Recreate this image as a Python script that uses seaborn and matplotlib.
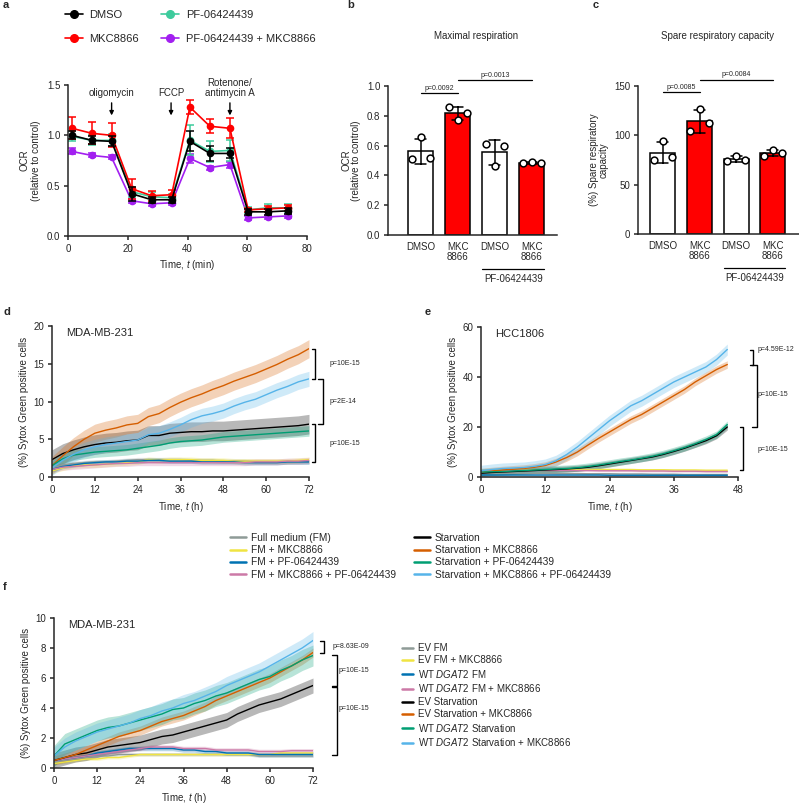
import numpy as np
import pandas as pd
import matplotlib
matplotlib.use("Agg")
import matplotlib.pyplot as plt
import seaborn as sns
from matplotlib.lines import Line2D
from matplotlib.transforms import blended_transform_factory

sns.set_style("ticks")
plt.rcParams["font.family"] = ["Liberation Sans", "DejaVu Sans"]
plt.rcParams["mathtext.fontset"] = "custom"
plt.rcParams["mathtext.rm"] = "Liberation Sans"
plt.rcParams["mathtext.it"] = "Liberation Sans:italic"
plt.rcParams["axes.linewidth"] = 1.1
plt.rcParams["xtick.major.width"] = 1.1
plt.rcParams["ytick.major.width"] = 1.1
plt.rcParams["xtick.major.size"] = 3
plt.rcParams["ytick.major.size"] = 3
plt.rcParams["xtick.labelsize"] = 7
plt.rcParams["ytick.labelsize"] = 7
plt.rcParams["axes.labelsize"] = 7
plt.rcParams["xtick.major.pad"] = 2.5
plt.rcParams["ytick.major.pad"] = 2.5

# ---------------- panel a: OCR time course ----------------
ocr_time = [1.3, 8.0, 14.6, 21.3, 28.0, 34.7, 40.8, 47.5, 54.2, 60.3, 67.0, 73.7]
ocr_dmso = [1.00, 0.95, 0.94, 0.42, 0.36, 0.36, 0.94, 0.82, 0.82, 0.24, 0.24, 0.25]
ocr_dmso_sd = [0.04, 0.04, 0.05, 0.07, 0.03, 0.03, 0.10, 0.07, 0.05, 0.03, 0.03, 0.03]
ocr_mkc = [1.07, 1.02, 1.00, 0.47, 0.40, 0.41, 1.28, 1.09, 1.07, 0.26, 0.27, 0.28]
ocr_mkc_sd = [0.11, 0.11, 0.12, 0.10, 0.05, 0.05, 0.07, 0.07, 0.10, 0.02, 0.03, 0.03]
ocr_pf = [0.99, 0.95, 0.95, 0.44, 0.39, 0.38, 0.95, 0.84, 0.85, 0.26, 0.28, 0.28]
ocr_pf_sd = [0.05, 0.05, 0.06, 0.05, 0.05, 0.04, 0.15, 0.10, 0.10, 0.03, 0.04, 0.04]
ocr_combo = [0.84, 0.80, 0.78, 0.35, 0.32, 0.33, 0.77, 0.68, 0.71, 0.18, 0.19, 0.20]
ocr_combo_sd = [0.03, 0.02, 0.02, 0.02, 0.02, 0.02, 0.04, 0.02, 0.03, 0.02, 0.02, 0.02]
ocr_labels = ["DMSO", "MKC8866", "PF-06424439", "PF-06424439 + MKC8866"]
ocr_colors = ["#000000", "#FF0000", "#3DCB9C", "#A21FF0"]
injections = [(14.6, "oligomycin"), (34.5, "FCCP"), (54.2, "Rotenone/\nantimycin A")]

# ---------------- panels b, c: bar charts ----------------
bar_groups = ["DMSO", "MKC8866", "PF DMSO", "PF MKC8866"]
bar_ticklabels = ["DMSO", "MKC\n8866", "DMSO", "MKC\n8866"]
bar_colors = ["white", "#FF0000", "white", "#FF0000"]
# replicate values ordered left, centre, right within each bar
maxresp = [[0.51, 0.66, 0.52], [0.86, 0.77, 0.82], [0.61, 0.46, 0.60], [0.48, 0.49, 0.48]]
spare = [[74.5, 94.5, 78.0], [104.0, 126.5, 112.0], [74.0, 79.5, 75.0], [79.0, 85.0, 82.5]]
maxresp_sig = [(0, 1, 0.955, "p=0.0092"), (1, 3, 1.04, "p=0.0013")]
spare_sig = [(0, 1, 143.5, "p=0.0085"), (1, 3, 156.5, "p=0.0084")]

# ---------------- panels d, e: Sytox green time courses ----------------
cond_labels = ["Full medium (FM)", "FM + MKC8866", "FM + PF-06424439",
               "FM + MKC8866 + PF-06424439", "Starvation", "Starvation + MKC8866",
               "Starvation + PF-06424439", "Starvation + MKC8866 + PF-06424439"]
cond_colors = ["#8E9B97", "#F0E442", "#0072B2", "#CC79A7",
               "#000000", "#D55E00", "#009E73", "#56B4E9"]

d_time = [0, 3, 6, 9, 12, 15, 18, 21, 24, 27, 30, 33, 36, 39, 42, 45, 48, 51, 54, 57, 60, 63, 66, 69, 72]
d_vals = [
    [1.2, 1.6, 1.8, 1.9, 2.0, 2.0, 2.1, 2.2, 2.3, 2.3, 2.3, 2.3, 2.3, 2.2, 2.2, 2.2, 2.1, 2.1, 2.1, 2.0, 2.0, 2.0, 2.0, 2.0, 2.0],
    [0.8, 1.2, 1.5, 1.6, 1.6, 1.7, 1.8, 1.9, 2.0, 2.3, 2.2, 2.3, 2.3, 2.3, 2.2, 2.2, 2.2, 2.1, 2.1, 2.1, 2.1, 2.1, 2.1, 2.2, 2.3],
    [1.0, 1.4, 1.6, 1.8, 1.9, 2.0, 2.0, 2.1, 2.1, 2.2, 2.2, 2.1, 2.1, 2.1, 2.0, 2.0, 2.0, 2.0, 1.9, 1.9, 1.9, 1.9, 2.0, 2.0, 2.0],
    [1.0, 1.3, 1.4, 1.5, 1.6, 1.7, 1.8, 1.8, 1.9, 1.9, 1.9, 1.9, 1.9, 1.9, 1.9, 1.9, 1.9, 1.9, 1.9, 2.0, 2.0, 2.0, 2.1, 2.1, 2.2],
    [2.3, 3.1, 3.6, 4.0, 4.3, 4.5, 4.6, 4.8, 4.9, 5.5, 5.5, 5.8, 5.9, 6.0, 6.0, 6.1, 6.1, 6.2, 6.3, 6.4, 6.5, 6.6, 6.7, 6.8, 7.0],
    [1.5, 2.8, 4.0, 5.0, 5.8, 6.2, 6.5, 6.9, 7.1, 8.0, 8.4, 9.2, 9.9, 10.5, 11.0, 11.6, 12.1, 12.7, 13.2, 13.7, 14.3, 14.9, 15.6, 16.2, 17.0],
    [1.5, 2.4, 2.9, 3.1, 3.3, 3.4, 3.5, 3.6, 3.8, 4.0, 4.2, 4.5, 4.7, 4.8, 4.9, 5.1, 5.3, 5.4, 5.5, 5.6, 5.7, 5.8, 5.9, 6.0, 6.1],
    [1.2, 2.2, 3.0, 3.6, 4.0, 4.3, 4.5, 4.7, 4.9, 5.6, 5.8, 6.3, 6.9, 7.6, 8.1, 8.4, 8.8, 9.4, 9.9, 10.3, 10.9, 11.5, 12.0, 12.6, 13.0],
]
d_band = [0.3, 0.35, 0.3, 0.4, 1.3, 1.2, 0.7, 1.0]

e_time = [0, 2, 4, 6, 8, 10, 12, 14, 16, 18, 20, 22, 24, 26, 28, 30, 32, 34, 36, 38, 40, 42, 44, 46]
e_vals = [
    [1.5, 1.5, 1.5, 1.5, 1.5, 1.5, 1.5, 1.4, 1.4, 1.4, 1.3, 1.3, 1.3, 1.2, 1.2, 1.2, 1.1, 1.1, 1.1, 1.0, 1.0, 1.0, 1.0, 1.0],
    [2.3, 2.4, 2.5, 2.6, 2.7, 2.8, 2.8, 2.9, 2.9, 3.0, 3.0, 3.0, 3.0, 3.0, 3.0, 2.9, 2.9, 2.9, 2.8, 2.8, 2.8, 2.7, 2.7, 2.7],
    [0.8, 0.8, 0.8, 0.8, 0.8, 0.8, 0.8, 0.8, 0.8, 0.8, 0.8, 0.8, 0.7, 0.7, 0.7, 0.7, 0.7, 0.7, 0.7, 0.7, 0.7, 0.7, 0.7, 0.7],
    [2.3, 2.4, 2.5, 2.5, 2.6, 2.6, 2.6, 2.6, 2.6, 2.6, 2.6, 2.5, 2.5, 2.5, 2.5, 2.4, 2.4, 2.4, 2.3, 2.3, 2.3, 2.2, 2.2, 2.2],
    [1.5, 1.8, 2.0, 2.2, 2.4, 2.6, 2.8, 3.0, 3.2, 3.5, 3.9, 4.5, 5.2, 5.9, 6.6, 7.3, 8.0, 9.0, 10.2, 11.5, 13.0, 14.5, 16.5, 20.0],
    [2.0, 2.4, 2.8, 3.1, 3.4, 3.9, 4.6, 6.0, 7.8, 10.0, 12.8, 15.5, 18.0, 20.5, 23.0, 25.0, 27.5, 30.0, 32.5, 35.0, 38.0, 40.5, 43.0, 45.0],
    [2.0, 2.1, 2.2, 2.4, 2.6, 2.8, 3.0, 3.2, 3.4, 3.7, 4.2, 4.8, 5.5, 6.2, 6.8, 7.5, 8.3, 9.3, 10.5, 11.8, 13.3, 15.0, 17.0, 21.0],
    [2.5, 3.0, 3.4, 3.6, 3.8, 4.3, 5.0, 6.5, 9.0, 12.0, 15.5, 19.0, 22.5, 25.5, 28.5, 30.5, 33.0, 35.5, 38.0, 40.0, 42.0, 44.0, 47.0, 51.0],
]
e_band = [0.4, 0.4, 0.3, 0.4, 1.2, 1.5, 1.4, 2.2]

# ---------------- panel f: DGAT2 overexpression ----------------
f_labels = ["EV FM", "EV FM + MKC8866", r"WT $\mathit{DGAT2}$ FM",
            r"WT $\mathit{DGAT2}$ FM + MKC8866", "EV Starvation",
            "EV Starvation + MKC8866", r"WT $\mathit{DGAT2}$ Starvation",
            r"WT $\mathit{DGAT2}$ Starvation + MKC8866"]
f_time = d_time
f_vals = [
    [0.4, 0.5, 0.6, 0.7, 0.8, 0.8, 0.9, 0.9, 0.9, 0.9, 0.9, 0.9, 0.9, 0.9, 0.9, 0.9, 0.9, 0.9, 0.9, 0.8, 0.8, 0.8, 0.8, 0.8, 0.8],
    [0.3, 0.4, 0.5, 0.6, 0.6, 0.7, 0.7, 0.8, 0.9, 0.9, 0.9, 0.9, 0.9, 0.9, 0.9, 0.9, 0.9, 0.9, 0.9, 0.9, 0.9, 1.0, 1.0, 1.0, 1.0],
    [0.5, 0.6, 0.7, 0.8, 1.0, 1.1, 1.2, 1.3, 1.3, 1.3, 1.3, 1.3, 1.2, 1.2, 1.1, 1.1, 1.0, 1.0, 1.0, 0.9, 0.9, 0.9, 0.9, 0.9, 0.9],
    [0.5, 0.6, 0.7, 0.8, 0.9, 1.0, 1.1, 1.2, 1.3, 1.4, 1.4, 1.4, 1.3, 1.3, 1.3, 1.2, 1.2, 1.2, 1.2, 1.1, 1.1, 1.1, 1.15, 1.15, 1.15],
    [0.5, 0.7, 0.9, 1.0, 1.2, 1.4, 1.5, 1.6, 1.7, 1.9, 2.1, 2.2, 2.4, 2.6, 2.8, 3.0, 3.2, 3.6, 3.9, 4.2, 4.4, 4.6, 4.9, 5.2, 5.5],
    [0.5, 0.7, 0.9, 1.2, 1.5, 1.8, 2.1, 2.3, 2.5, 2.8, 3.1, 3.3, 3.5, 3.8, 4.1, 4.5, 4.8, 5.1, 5.4, 5.7, 6.0, 6.4, 6.8, 7.2, 7.7],
    [0.8, 1.6, 1.9, 2.2, 2.5, 2.7, 2.8, 3.0, 3.2, 3.4, 3.6, 3.9, 4.0, 4.3, 4.5, 4.8, 5.0, 5.3, 5.6, 5.9, 6.1, 6.5, 6.8, 7.2, 7.5],
    [0.8, 1.4, 1.8, 2.1, 2.4, 2.6, 2.8, 3.0, 3.3, 3.5, 3.8, 4.0, 4.3, 4.5, 4.8, 5.1, 5.5, 5.8, 6.1, 6.4, 6.8, 7.2, 7.6, 8.0, 8.5],
]
f_band = [0.1, 0.1, 0.15, 0.15, 0.5, 0.3, 0.7, 0.6]

W, H = 799, 809


def rect(x0, y0, x1, y1):
    return [x0 / W, 1 - y1 / H, (x1 - x0) / W, (y1 - y0) / H]


fig = plt.figure(figsize=(W / 100, H / 100), dpi=100)

for lab, (x, y) in zip("abcdef", [(3, 5), (347, 5), (593, 5), (3, 312), (425, 312), (3, 587)]):
    fig.text(x / W, 1 - y / H, lab, fontsize=8, fontweight="bold", va="center", ha="left")

# ---------- a ----------
ax = fig.add_axes(rect(68, 85, 307, 236))
ocr_df = pd.concat([
    pd.DataFrame({"time": ocr_time, "ocr": m, "sd": s, "treatment": lab})
    for lab, m, s in zip(ocr_labels, [ocr_dmso, ocr_mkc, ocr_pf, ocr_combo],
                         [ocr_dmso_sd, ocr_mkc_sd, ocr_pf_sd, ocr_combo_sd])
])
draw_order = [3, 2, 1, 0]
for i in draw_order:
    sub = ocr_df[ocr_df.treatment == ocr_labels[i]]
    ax.errorbar(sub.time, sub.ocr, yerr=sub.sd, fmt="none", ecolor=ocr_colors[i],
                elinewidth=1.1, capsize=3, capthick=1.1)
    sns.lineplot(data=sub, x="time", y="ocr", color=ocr_colors[i], marker="o",
                 markersize=5.5, markeredgewidth=0, linewidth=1.2, ax=ax)
ax.set_xlim(0, 80)
ax.set_ylim(0, 1.5)
ax.set_xticks([0, 20, 40, 60, 80])
ax.set_yticks([0, 0.5, 1.0, 1.5])
ax.set_yticklabels(["0.0", "0.5", "1.0", "1.5"])
ax.set_xlabel(r"Time, $\mathit{t}$ (min)", labelpad=3)
ax.set_ylabel("OCR\n(relative to control)", labelpad=4)
for t, lab in injections:
    ax.annotate("", xy=(t, 1.17), xytext=(t, 1.35),
                arrowprops=dict(arrowstyle="-|>", color="k", lw=1.0, mutation_scale=6))
    ax.text(t, 1.37, lab, ha="center", va="bottom", fontsize=7, linespacing=1.05)
sns.despine(ax=ax)
handles = [Line2D([0], [0], color=c, marker="o", markersize=5.5, lw=1.2) for c in ocr_colors]
fig.legend(handles, ocr_labels, ncol=2, loc="upper left", bbox_to_anchor=(65 / W, 1 - 10 / H),
           frameon=False, fontsize=8, handlelength=1.6, handletextpad=0.6,
           columnspacing=2.0, labelspacing=1.25, borderpad=0, borderaxespad=0)


# ---------- b, c ----------
def bar_panel(box, values, xlim, ylim, yticks, yticklabels, ylabel, title, sigs):
    ax = fig.add_axes(box)
    df = pd.DataFrame({"group": np.repeat(bar_groups, 3), "value": np.concatenate(values)})
    sns.barplot(data=df, x="group", y="value", hue="group", order=bar_groups,
                palette=dict(zip(bar_groups, bar_colors)), saturation=1, errorbar="sd",
                capsize=0.3, edgecolor="k", linewidth=1.1, width=0.68, legend=False,
                err_kws={"color": "k", "linewidth": 1.1}, ax=ax)
    offsets = [-0.25, 0.0, 0.25]
    for i, vals in enumerate(values):
        ax.scatter([i + o for o in offsets], vals, s=24, facecolor="white",
                   edgecolor="k", linewidth=1.1, zorder=5)
    ax.set_xlim(*xlim)
    ax.set_ylim(*ylim)
    ax.set_yticks(yticks)
    ax.set_yticklabels(yticklabels)
    ax.set_xticks(range(4))
    ax.set_xticklabels(bar_ticklabels, linespacing=1.0)
    ax.tick_params(axis="x", length=0, pad=5)
    ax.set_xlabel("")
    ax.set_ylabel(ylabel, labelpad=4, linespacing=1.0)
    tr = blended_transform_factory(ax.transData, ax.transAxes)
    ax.plot([2 - 0.34, 3 + 0.34], [-0.228, -0.228], color="k", lw=0.9, transform=tr, clip_on=False)
    ax.text(2.5, -0.265, "PF-06424439", ha="center", va="top", fontsize=7, transform=tr)
    ax.text(1.5, 1 + 50 / 149, title, ha="center", va="center", fontsize=7, transform=tr)
    span = ylim[1] - ylim[0]
    for x0, x1, y, lab in sigs:
        ax.plot([x0, x1], [y, y], color="k", lw=0.9, clip_on=False)
        ax.text((x0 + x1) / 2, y + span * 0.008, lab, ha="center", va="bottom", fontsize=5)
    sns.despine(ax=ax)
    return ax


bar_panel(rect(388, 86, 557, 235), maxresp, (-0.89, 3.68), (0, 1.0),
          [0, 0.2, 0.4, 0.6, 0.8, 1.0], ["0.0", "0.2", "0.4", "0.6", "0.8", "1.0"],
          "OCR\n(relative to control)", "Maximal respiration", maxresp_sig)
bar_panel(rect(638, 86, 799, 234), spare, (-0.68, 3.71), (0, 150),
          [0, 50, 100, 150], ["0", "50", "100", "150"],
          "(%) Spare respiratory\ncapacity", "Spare respiratory capacity", spare_sig)


# ---------- d, e, f ----------
def time_panel(box, times, vals, bands, labels, xmax, xticks, ymax, yticks, cell, brackets):
    ax = fig.add_axes(box)
    df = pd.concat([pd.DataFrame({"time": times, "value": v, "condition": lab})
                    for lab, v in zip(labels, vals)])
    for v, b, c in zip(vals, bands, cond_colors):
        v = np.asarray(v)
        ax.fill_between(times, v - b, v + b, color=c, alpha=0.28, lw=0)
    sns.lineplot(data=df, x="time", y="value", hue="condition", hue_order=labels,
                 palette=dict(zip(labels, cond_colors)), linewidth=1.0, legend=False, ax=ax)
    ax.set_xlim(0, xmax)
    ax.set_ylim(0, ymax)
    ax.set_xticks(xticks)
    ax.set_yticks(yticks)
    ax.set_xlabel(r"Time, $\mathit{t}$ (h)", labelpad=4)
    ax.set_ylabel("(%) Sytox Green positive cells", labelpad=3)
    ax.text(0.055, 0.955, cell, transform=ax.transAxes, fontsize=8, va="center", ha="left")
    tr = blended_transform_factory(ax.transAxes, ax.transData)
    for ytop, ybot, x, tick, lab, ty, tx in brackets:
        ax.plot([x - tick, x, x, x - tick], [ytop, ytop, ybot, ybot], color="k", lw=1.0,
                transform=tr, clip_on=False)
        ax.text(tx, ty, lab, transform=tr, fontsize=5, va="center", ha="left")
    sns.despine(ax=ax)
    return ax


dw = 257.0
time_panel(rect(52, 326, 309, 477), d_time, d_vals, d_band, cond_labels, 72,
           range(0, 73, 12), 20, [0, 5, 10, 15, 20], "MDA-MB-231",
           [(d_vals[5][-1], d_vals[7][-1], 263 / dw, 3.5 / dw, "p=10E-15", 15.0, 278 / dw),
            (d_vals[7][-1], d_vals[4][-1], 271 / dw, 5 / dw, "p=2E-14", 10.0, 278 / dw),
            (d_vals[4][-1], d_vals[0][-1], 263 / dw, 3.5 / dw, "p=10E-15", 4.5, 278 / dw)])
time_panel(rect(481, 327, 738, 477), e_time, e_vals, e_band, cond_labels, 48,
           range(0, 49, 12), 60, [0, 20, 40, 60], "HCC1806",
           [(e_vals[7][-1], e_vals[5][-1], 272 / dw, 3.5 / dw, "p=4.59E-12", 51.0, 277 / dw),
            (e_vals[5][-1], e_vals[4][-1], 276 / dw, 5 / dw, "p=10E-15", 33.0, 277 / dw),
            (e_vals[4][-1], e_vals[1][-1], 262 / dw, 3.5 / dw, "p=10E-15", 11.0, 277 / dw)])

handles = [Line2D([0], [0], color=c, lw=1.8) for c in cond_colors]
fig.legend(handles, cond_labels, ncol=2, loc="upper left", bbox_to_anchor=(230 / W, 1 - 533 / H),
           frameon=False, fontsize=7.3, handlelength=1.55, handletextpad=0.5,
           columnspacing=1.8, labelspacing=0.22, borderpad=0, borderaxespad=0)

fw = 259.0
time_panel(rect(54, 618, 313, 768), f_time, f_vals, f_band, f_labels, 72,
           range(0, 73, 12), 10, [0, 2, 4, 6, 8, 10], "MDA-MB-231",
           [(f_vals[7][-1], f_vals[5][-1], 270 / fw, 4 / fw, "p=8.63E-09", 8.1, 279 / fw),
            (f_vals[6][-1] + 0.05, f_vals[4][-1], 283 / fw, 5 / fw, "p=10E-15", 6.5, 285 / fw),
            (f_vals[4][-1] - 0.1, f_vals[2][-1] - 0.05, 283 / fw, 5 / fw, "p=10E-15", 4.0, 285 / fw)])

fig.legend(handles[:4], f_labels[:4], loc="upper left", bbox_to_anchor=(402 / W, 1 - 643 / H),
           frameon=False, fontsize=7, handlelength=1.1, handletextpad=0.5,
           labelspacing=0.24, borderpad=0, borderaxespad=0)
fig.legend(handles[4:], f_labels[4:], loc="upper left", bbox_to_anchor=(402 / W, 1 - 697 / H),
           frameon=False, fontsize=7, handlelength=1.1, handletextpad=0.5,
           labelspacing=0.24, borderpad=0, borderaxespad=0)

fig.savefig("out.png", dpi=100)
